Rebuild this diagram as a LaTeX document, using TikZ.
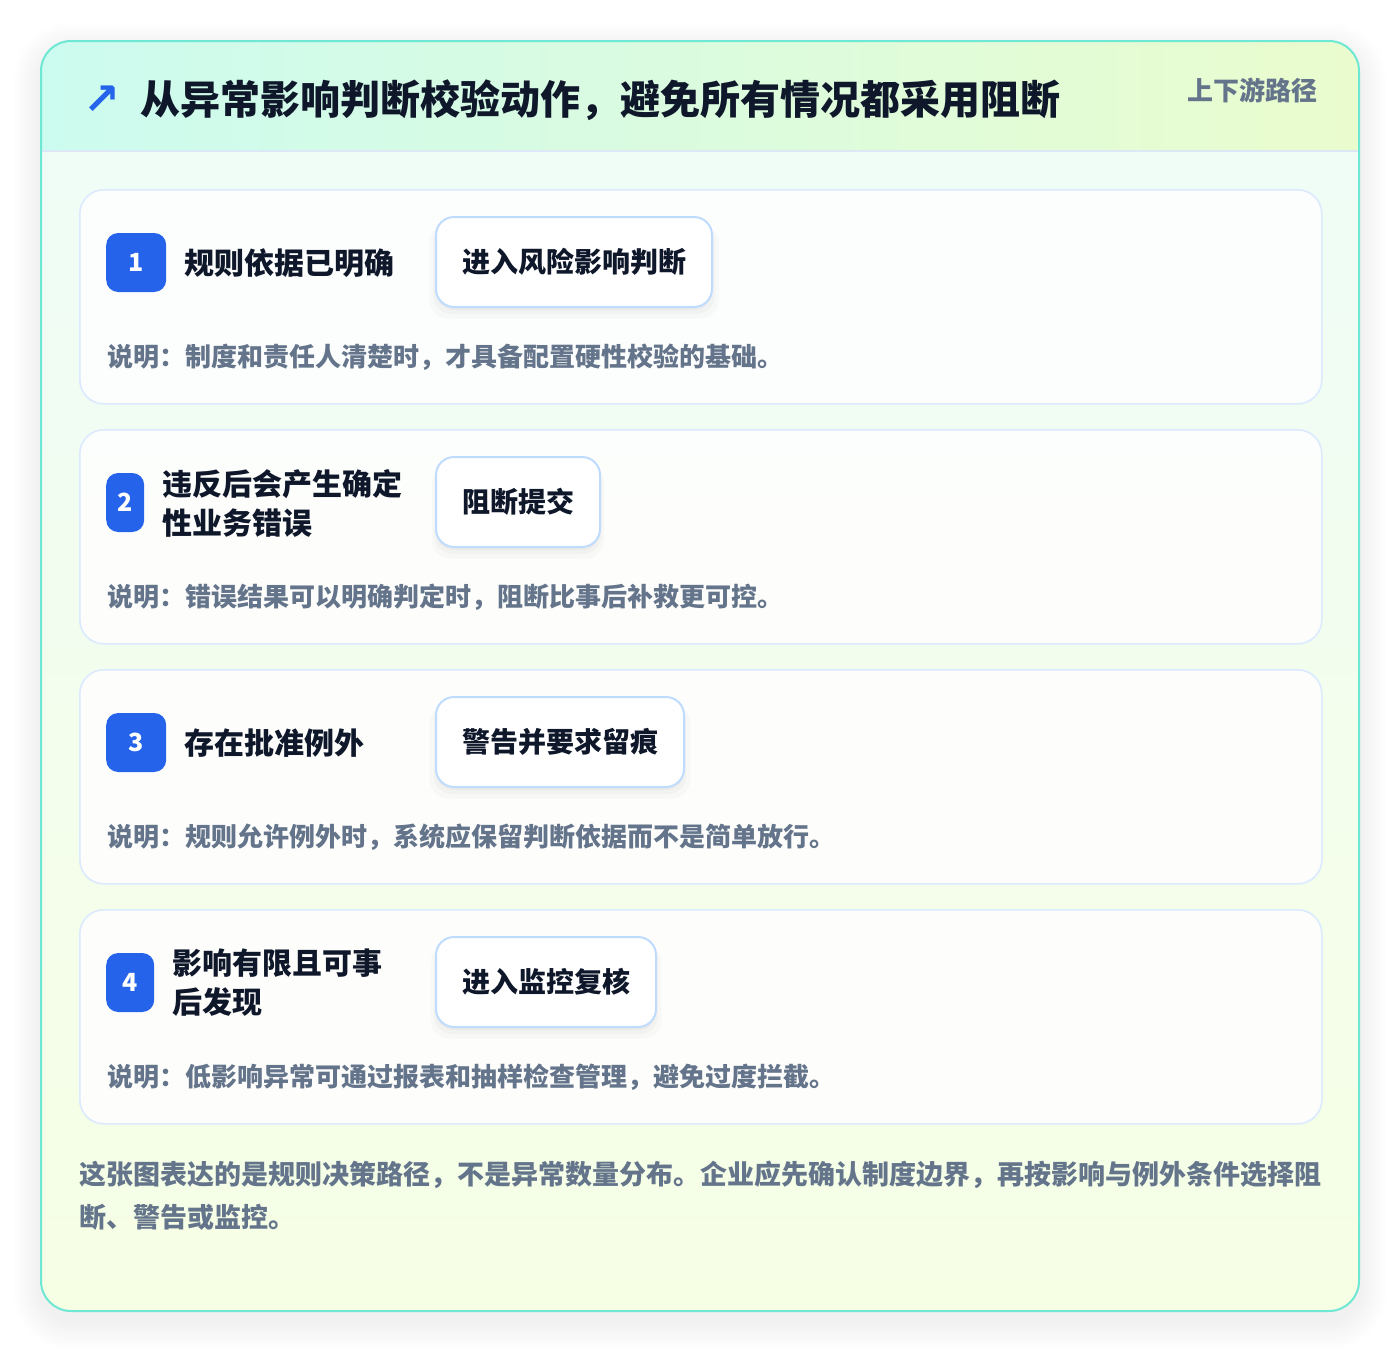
\documentclass[tikz,border=0pt]{standalone}
\usepackage{fontspec}
\setmainfont{Noto Sans CJK SC}
\newfontfamily\symfont{DejaVu Sans}
\usetikzlibrary{shadows}
\definecolor{navy}{HTML}{0F172A}
\definecolor{slate}{HTML}{64748B}
\definecolor{brandblue}{HTML}{2563EB}
\definecolor{cardline}{HTML}{DBEAFE}
\definecolor{actline}{HTML}{BFDBFE}
\definecolor{tealline}{HTML}{6EE7D4}
\definecolor{headleft}{HTML}{CCFBEF}
\definecolor{headright}{HTML}{EAFCCE}
\definecolor{bodytop}{HTML}{EFFDF8}
\definecolor{bodybottom}{HTML}{F6FEE4}
\definecolor{headline}{HTML}{DCE8F5}
\begin{document}
\begin{tikzpicture}[x=1pt,y=-1pt,
  softshadow/.style={
    general shadow={fill=black, opacity=0.018, shadow yshift=-9pt, shadow scale=1.05},
    general shadow={fill=black, opacity=0.025, shadow yshift=-6pt, shadow scale=1.02},
    general shadow={fill=black, opacity=0.03, shadow yshift=-3pt, shadow scale=1.0}},
  card/.style={draw=cardline, line width=1.6pt, fill=white, fill opacity=0.85, draw opacity=1,
    rounded corners=24pt, minimum width=1242pt, minimum height=214pt, anchor=north west, inner sep=0pt},
  badge/.style={fill=brandblue, rounded corners=12pt, minimum height=59pt, inner sep=0pt, anchor=west,
    text=white, font=\bfseries\fontsize{25}{28}\selectfont},
  label/.style={anchor=west, inner sep=0pt, text=navy, font=\bfseries\fontsize{30}{39}\selectfont, align=left},
  action/.style={anchor=west, draw=actline, line width=2pt, fill=white, rounded corners=18pt,
    minimum height=90pt, inner xsep=26pt, inner ysep=0pt, text=navy,
    font=\bfseries\fontsize{28}{34}\selectfont, softshadow},
  desc/.style={anchor=west, inner sep=0pt, text=slate, font=\bfseries\fontsize{26}{32}\selectfont},
  foot/.style={anchor=west, inner sep=0pt, text=slate, font=\bfseries\fontsize{27}{42}\selectfont},
]
\useasboundingbox (0,0) rectangle (1400,1352);
\fill[white] (0,0) rectangle (1400,1352);
% outer soft shadow
\foreach \i in {1,...,14}{
  \pgfmathsetmacro\rr{30+2*\i}
  \fill[black, opacity=0.005, rounded corners=\rr pt] ({41-2*\i},{41-2*\i+10}) rectangle ({1359+2*\i},{1311+2*\i+10});
}
% outer panel
\begin{scope}
  \clip[rounded corners=30pt] (41,41) rectangle (1359,1311);
  \shade[top color=bodytop, bottom color=bodybottom] (41,41) rectangle (1359,1311);
  \shade[left color=headleft, right color=headright] (41,41) rectangle (1359,151);
  \draw[headline, line width=2pt] (41,151) -- (1359,151);
\end{scope}
\draw[tealline, line width=2pt, rounded corners=30pt] (41,41) rectangle (1359,1311);
% header
\node[text=brandblue, inner sep=0pt, font=\symfont\bfseries\fontsize{44}{44}\selectfont] (arrow) at (102,100) {↗};
\node[anchor=west, inner sep=0pt, text=navy, font=\bfseries\fontsize{40}{48}\selectfont] (title) at (140,100) {从异常影响判断校验动作，避免所有情况都采用阻断};
\node[anchor=east, inner sep=0pt, text=slate, font=\bfseries\fontsize{26}{32}\selectfont] (tag) at (1318,90) {上下游路径};
% cards
\node[card] (card1) at (79,189) {};
\node[card] (card2) at (79,429) {};
\node[card] (card3) at (79,669) {};
\node[card] (card4) at (79,909) {};
% card 1
\node[badge, minimum width=60pt] (b1) at (106,262.5) {1};
\node[label] (l1) at (184,263) {规则依据已明确};
\node[action] (a1) at (435,262) {进入风险影响判断};
\node[desc] (d1) at (107,357) {说明：制度和责任人清楚时，才具备配置硬性校验的基础。};
% card 2
\node[badge, minimum width=38pt] (b2) at (106,502.5) {2};
\node[label] (l2) at (162,503) {违反后会产生确定\\性业务错误};
\node[action] (a2) at (435,502) {阻断提交};
\node[desc] (d2) at (107,597) {说明：错误结果可以明确判定时，阻断比事后补救更可控。};
% card 3
\node[badge, minimum width=60pt] (b3) at (106,742.5) {3};
\node[label] (l3) at (184,743) {存在批准例外};
\node[action] (a3) at (435,742) {警告并要求留痕};
\node[desc] (d3) at (107,837) {说明：规则允许例外时，系统应保留判断依据而不是简单放行。};
% card 4
\node[badge, minimum width=48pt] (b4) at (106,982.5) {4};
\node[label] (l4) at (172,983) {影响有限且可事\\后发现};
\node[action] (a4) at (435,982) {进入监控复核};
\node[desc] (d4) at (107,1077) {说明：低影响异常可通过报表和抽样检查管理，避免过度拦截。};
% footer
\node[foot] (f1) at (79,1175) {这张图表达的是规则决策路径，不是异常数量分布。企业应先确认制度边界，再按影响与例外条件选择阻};
\node[foot] (f2) at (79,1217) {断、警告或监控。};
\end{tikzpicture}
\end{document}
